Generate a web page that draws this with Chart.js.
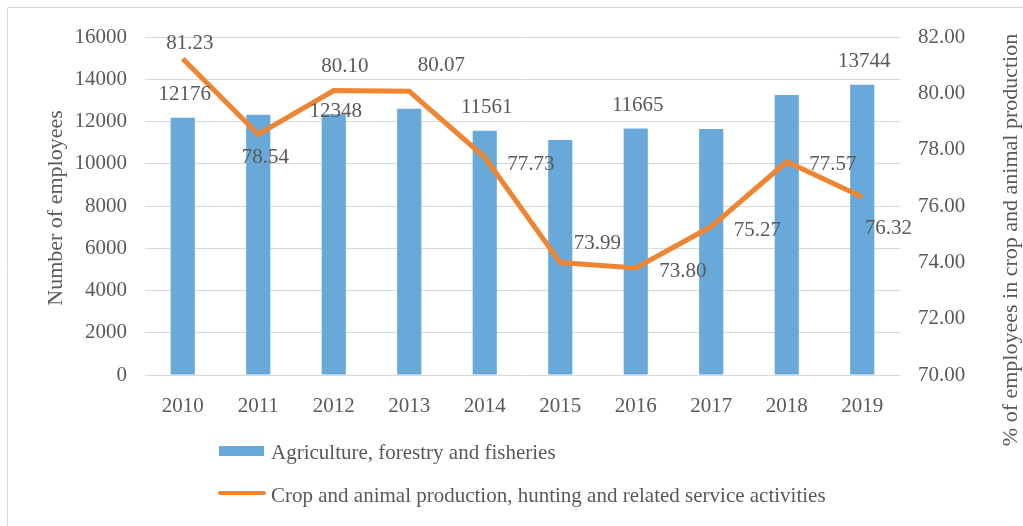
<!DOCTYPE html>
<html>
<head>
<meta charset="utf-8">
<script src="https://cdn.jsdelivr.net/npm/chart.js@4/dist/chart.umd.min.js"></script>
<style>
  html, body { margin: 0; padding: 0; background: #fff; }
  #wrap { width: 1023px; height: 526px; position: relative; }
</style>
</head>
<body>
<div id="wrap"><canvas id="chart" width="1023" height="526"></canvas></div>
<script>
const years = ['2010', '2011', '2012', '2013', '2014', '2015', '2016', '2017', '2018', '2019'];
const employees = [12176, 12320, 12348, 12600, 11561, 11120, 11665, 11650, 13260, 13744];
const cropShare = [81.23, 78.54, 80.10, 80.07, 77.73, 73.99, 73.80, 75.27, 77.57, 76.32];
const labelledBars = [0, 2, 4, 6, 9];
const leftTicks = [0, 16000, 2000];
const rightTicks = [70, 82, 2];

const barName = 'Agriculture, forestry and fisheries';
const lineName = 'Crop and animal production, hunting and related service activities';
const leftTitle = 'Number of employees';
const rightTitle = '% of employees in crop and animal production';

// label placement relative to the drawn element (style only)
const lineLabelOffsets = [[7, -15], [7, 23], [11, -24], [32, -26], [46, 7], [37, -19], [47, 4], [46, 4], [46, 3], [26, 31]];
const barLabelOffsets = { 0: -23, 2: -3, 4: -23, 6: -23, 9: -23 };

const FONT = '"Liberation Serif", "Times New Roman", serif';
const TEXT = '#595959';
const BLUE = '#68a9d9';
const ORANGE = '#ee8533';

const extras = {
  id: 'extras',
  beforeDraw(chart) {
    const ctx = chart.ctx;
    ctx.save();
    ctx.strokeStyle = '#d9d9d9';
    ctx.lineWidth = 1;
    ctx.beginPath();
    ctx.moveTo(7.5, 530);
    ctx.lineTo(7.5, 7.5);
    ctx.lineTo(1030, 7.5);
    ctx.stroke();
    ctx.restore();
  },
  afterDatasetsDraw(chart) {
    const ctx = chart.ctx;
    ctx.save();
    ctx.font = '21px ' + FONT;
    ctx.fillStyle = TEXT;
    ctx.textAlign = 'center';
    ctx.textBaseline = 'middle';

    const barMeta = chart.getDatasetMeta(0);
    labelledBars.forEach(i => {
      const el = barMeta.data[i];
      ctx.fillText(String(employees[i]), el.x + 2, el.y + barLabelOffsets[i]);
    });

    const lineMeta = chart.getDatasetMeta(1);
    lineMeta.data.forEach((el, i) => {
      const o = lineLabelOffsets[i];
      ctx.fillText(cropShare[i].toFixed(2), el.x + o[0], el.y + o[1]);
    });

    // axis titles
    ctx.font = '22px ' + FONT;
    ctx.save();
    ctx.translate(56, 208);
    ctx.rotate(-Math.PI / 2);
    ctx.fillText(leftTitle, 0, 0);
    ctx.restore();
    ctx.save();
    ctx.translate(1011, 240);
    ctx.rotate(-Math.PI / 2);
    ctx.fillText(rightTitle, 0, 0);
    ctx.restore();

    // legend, one entry per row
    ctx.font = '21px ' + FONT;
    ctx.textAlign = 'left';
    ctx.fillStyle = BLUE;
    ctx.fillRect(219, 446, 45, 10);
    ctx.strokeStyle = ORANGE;
    ctx.lineWidth = 4;
    ctx.lineCap = 'round';
    ctx.beginPath();
    ctx.moveTo(220, 493);
    ctx.lineTo(264, 493);
    ctx.stroke();
    ctx.fillStyle = TEXT;
    ctx.fillText(barName, 271, 453);
    ctx.fillText(lineName, 271, 496);
    ctx.restore();
  }
};

new Chart(document.getElementById('chart'), {
  type: 'bar',
  data: {
    labels: years,
    datasets: [
      {
        type: 'bar',
        label: barName,
        data: employees,
        backgroundColor: BLUE,
        yAxisID: 'y',
        barPercentage: 0.32,
        categoryPercentage: 1,
        order: 1
      },
      {
        type: 'line',
        label: lineName,
        data: cropShare,
        borderColor: ORANGE,
        borderWidth: 5,
        pointRadius: 0,
        tension: 0,
        yAxisID: 'y1',
        order: 0
      }
    ]
  },
  plugins: [extras],
  options: {
    responsive: false,
    animation: false,
    layout: { padding: { top: 37, left: 0, right: 0, bottom: 0 } },
    plugins: {
      legend: { display: false },
      tooltip: { enabled: false }
    },
    scales: {
      x: {
        grid: { display: false },
        border: { display: false },
        ticks: { color: TEXT, font: { family: FONT, size: 21 }, padding: 11 },
        afterFit(s) { s.height = 151; }
      },
      y: {
        position: 'left',
        min: leftTicks[0],
        max: leftTicks[1],
        grid: { color: '#d9d9d9', drawTicks: false },
        border: { display: false },
        ticks: {
          stepSize: leftTicks[2],
          color: TEXT,
          font: { family: FONT, size: 21 },
          padding: 18,
          callback: v => String(v)
        },
        afterFit(s) { s.width = 145; }
      },
      y1: {
        position: 'right',
        min: rightTicks[0],
        max: rightTicks[1],
        grid: { display: false, drawTicks: false },
        border: { display: false },
        ticks: {
          stepSize: rightTicks[2],
          color: TEXT,
          font: { family: FONT, size: 21 },
          padding: 18,
          callback: v => Number(v).toFixed(2)
        },
        afterFit(s) { s.width = 123; }
      }
    }
  }
});
</script>
</body>
</html>
